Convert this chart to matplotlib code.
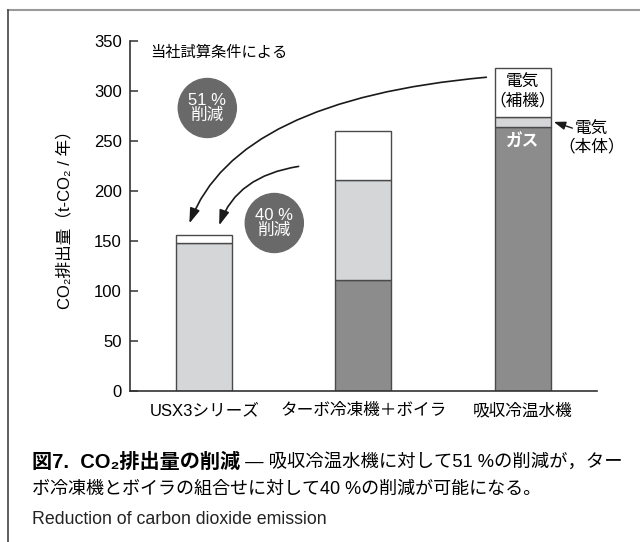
import matplotlib
matplotlib.use('Agg')
from matplotlib import pyplot as plt
from matplotlib.patches import Ellipse, FancyArrowPatch
from matplotlib.lines import Line2D

plt.rcParams['font.family'] = ['Liberation Sans', 'Noto Sans CJK JP', 'DejaVu Sans']

# data (t-CO2 / year)
categories = ['USX3シリーズ', 'ターボ冷凍機＋ボイラ', '吸収冷温水機']
gas = [0, 111, 264]            # dark grey
elec_main = [148, 100, 10]     # light grey
elec_aux = [8, 49, 49]         # white
y_ticks = [0, 50, 100, 150, 200, 250, 300, 350]

DARK = '#8c8c8c'
LIGHT = '#d5d6d8'
EDGE = '#4a4a4a'
BUBBLE = '#696969'

fig = plt.figure(figsize=(6.4, 5.42), dpi=100)
ax = fig.add_axes([129.5 / 640, 151.3 / 542, 467 / 640, 350 / 542])

x = list(range(len(categories)))
w = 0.352
bottom2 = [g + e for g, e in zip(gas, elec_main)]
ax.bar(x, gas, w, color=DARK, edgecolor=EDGE, linewidth=1.0)
ax.bar(x, elec_main, w, bottom=gas, color=LIGHT, edgecolor=EDGE, linewidth=1.0)
ax.bar(x, elec_aux, w, bottom=bottom2, color='white', edgecolor=EDGE, linewidth=1.0)

ax.set_xlim(-0.47, 2.465)
ax.set_ylim(0, 350)
ax.set_yticks(y_ticks)
ax.set_xticks(x)
ax.set_xticklabels(categories, fontsize=12)
ax.tick_params(axis='x', length=0, pad=9)
ax.tick_params(axis='y', direction='in', length=5.5, width=1.1, labelsize=12,
               pad=5.5, color='#333333')
for s in ['top', 'right']:
    ax.spines[s].set_visible(False)
for s in ['left', 'bottom']:
    ax.spines[s].set_color('#333333')
    ax.spines[s].set_linewidth(1.2)

ax.set_ylabel('CO₂排出量（t-CO₂ / 年）', fontsize=12)
ax.yaxis.set_label_coords(-0.123, 0.5)

ax.text(-0.34, 337.5, '当社試算条件による', fontsize=11, va='center', ha='left')

# reduction bubbles
for cx, cy, lab in [(0.019, 282.7, '51 %\n削減'), (0.44, 167.7, '40 %\n削減')]:
    ax.add_patch(Ellipse((cx, cy), 0.365, 59, color=BUBBLE, zorder=3))
    ax.text(cx, cy, lab, color='white', fontsize=12, ha='center', va='center',
            linespacing=1.05, zorder=4)

# curved arrows towards USX3
ax.add_patch(FancyArrowPatch((1.79, 313.7), (-0.10, 164.7),
                             connectionstyle='angle3,angleA=5,angleB=70',
                             arrowstyle='-|>,head_length=0.9,head_width=0.3',
                             mutation_scale=10, color='#1a1a1a', lw=1.2, zorder=5))
ax.add_patch(FancyArrowPatch((0.61, 224.7), (0.088, 162.7),
                             connectionstyle='angle3,angleA=8,angleB=72',
                             arrowstyle='-|>,head_length=0.9,head_width=0.3',
                             mutation_scale=10, color='#1a1a1a', lw=1.2, zorder=5))

# labels on the absorption chiller bar
ax.text(2, 299, '電気\n（補機）', fontsize=12, ha='center', va='center', linespacing=1.15)
ax.text(2, 249, 'ガス', fontsize=12, ha='center', va='center', color='white',
        fontweight='bold')
ax.text(2.434, 252.5, '電気\n（本体）', fontsize=12, ha='center', va='center',
        linespacing=1.15, clip_on=False)
ax.add_patch(FancyArrowPatch((2.33, 261.7), (2.18, 269.7),
                             arrowstyle='-|>,head_length=0.7,head_width=0.25',
                             mutation_scale=10, color='#1a1a1a', lw=1.0,
                             clip_on=False))

# frame lines
fig.add_artist(Line2D([8 / 640, 1], [532 / 542, 532 / 542], color='#9a9a9a', lw=1.5))
fig.add_artist(Line2D([8 / 640, 8 / 640], [0, 532 / 542], color='#444444', lw=1.2))

# caption
t1 = fig.text(32 / 640, (542 - 462) / 542, '図7.  CO₂排出量の削減', fontsize=14.5,
              fontweight='bold', va='center', ha='left')
ax.annotate(' — 吸収冷温水機に対して51 %の削減が，ター', xy=(1, 0.5), xycoords=t1,
            fontsize=13.2, va='center', ha='left', annotation_clip=False)
fig.text(32 / 640, (542 - 489) / 542, 'ボ冷凍機とボイラの組合せに対して40 %の削減が可能になる。',
         fontsize=13, va='center', ha='left')
fig.text(32 / 640, (542 - 519) / 542, 'Reduction of carbon dioxide emission',
         fontsize=12.8, va='center', ha='left', color='#222222')

fig.savefig('out.png', dpi=100)
